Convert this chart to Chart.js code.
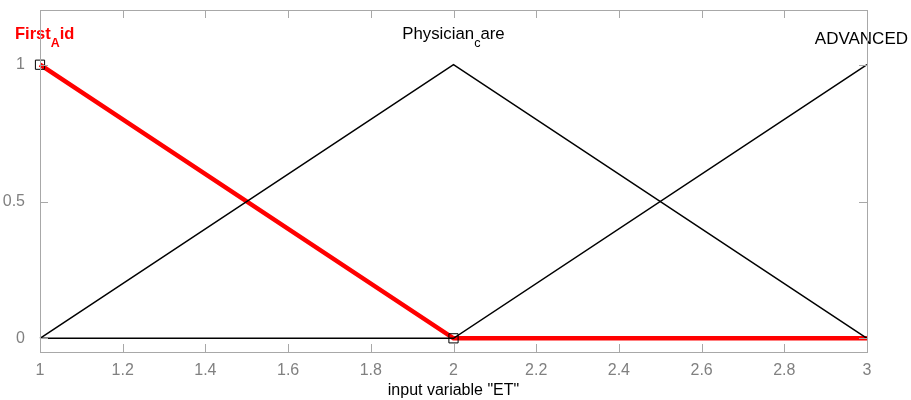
<!DOCTYPE html>
<html>
<head>
<meta charset="utf-8">
<script src="https://cdn.jsdelivr.net/npm/chart.js@4"></script>
<style>
  html, body { margin: 0; padding: 0; background: #fff; }
  #mf { display: block; }
</style>
</head>
<body>
<canvas id="mf" width="911" height="400"></canvas>
<script>
// membership function break points on "ET"
const mfX = [1, 2, 3];
const firstAidY = [1, 0, 0];
const physicianCareY = [0, 1, 0];
const advancedY = [0, 0, 1];

// label text: [main, subscript, rest]
const mfLabels = [['First', 'A', 'id'], ['Physician', 'c', 'are'], ['ADVANCED', '', '']];
const yTicks = [0, 0.5, 1];
const xTitle = 'input variable "ET"';

const FONT = '"Liberation Sans", Arial, Helvetica, sans-serif';
const AXIS_GREY = '#a8a8a8';
const TICK_GREY = '#808080';

function toPoints(ys) {
    return mfX.map((x, i) => ({ x: x, y: ys[i] }));
}

// box + inward ticks like the matlab axes
const boxPlugin = {
    id: 'box',
    afterDraw(chart) {
        const { ctx, chartArea: a, scales } = chart;
        ctx.save();
        ctx.strokeStyle = AXIS_GREY;
        ctx.lineWidth = 1;
        ctx.strokeRect(Math.round(a.left) + 0.5, Math.round(a.top) + 0.5,
            Math.round(a.right - a.left), Math.round(a.bottom - a.top));
        const len = 8;
        ctx.beginPath();
        scales.x.ticks.forEach(t => {
            const px = Math.round(scales.x.getPixelForValue(t.value)) + 0.5;
            ctx.moveTo(px, a.bottom);
            ctx.lineTo(px, a.bottom - len);
            ctx.moveTo(px, a.top);
            ctx.lineTo(px, a.top + len);
        });
        scales.y.ticks.forEach(t => {
            const py = Math.round(scales.y.getPixelForValue(t.value)) + 0.5;
            ctx.moveTo(a.left, py);
            ctx.lineTo(a.left + len, py);
            ctx.moveTo(a.right, py);
            ctx.lineTo(a.right - len, py);
        });
        ctx.stroke();
        ctx.restore();
    }
};

// mf names above each peak, with tex-like subscripts
const labelPlugin = {
    id: 'mfNames',
    afterDatasetsDraw(chart) {
        const { ctx, scales, width } = chart;
        const styles = [
            { color: '#ff0000', weight: 'bold', size: 16.5, dy: -30 },
            { color: '#000000', weight: 'normal', size: 16.8, dy: -30 },
            { color: '#000000', weight: 'normal', size: 17, dy: -25 }
        ];
        ctx.save();
        ctx.textBaseline = 'middle';
        ctx.textAlign = 'left';
        mfLabels.forEach((parts, i) => {
            const s = styles[i];
            const big = s.weight + ' ' + s.size + 'px ' + FONT;
            const small = s.weight + ' ' + (s.size * 0.75).toFixed(1) + 'px ' + FONT;
            ctx.font = big;
            const w1 = ctx.measureText(parts[0]).width;
            const w3 = ctx.measureText(parts[2]).width;
            ctx.font = small;
            const w2 = ctx.measureText(parts[1]).width;
            const total = w1 + w2 + w3;
            let x = scales.x.getPixelForValue(mfX[i]) - total / 2;
            // keep names inside the figure
            x = Math.max(15, Math.min(x, width - 3 - total));
            const y = scales.y.getPixelForValue(1) + s.dy;
            ctx.fillStyle = s.color;
            ctx.font = big;
            ctx.fillText(parts[0], x, y);
            x += w1;
            ctx.font = small;
            ctx.fillText(parts[1], x, y + 9);
            x += w2;
            ctx.font = big;
            ctx.fillText(parts[2], x, y);
        });
        ctx.restore();
    }
};

const chart = new Chart(document.getElementById('mf'), {
    type: 'line',
    data: {
        datasets: [{
            label: 'ADVANCED',
            data: toPoints(advancedY),
            borderColor: '#000',
            borderWidth: 1.5,
            pointRadius: 0,
            tension: 0,
            clip: false
        }, {
            label: 'Physician_care',
            data: toPoints(physicianCareY),
            borderColor: '#000',
            borderWidth: 1.5,
            pointRadius: 0,
            tension: 0,
            clip: false
        }, {
            label: 'First_Aid',
            data: toPoints(firstAidY),
            borderColor: '#ff0000',
            borderWidth: 4.5,
            pointStyle: 'rect',
            pointRadius: [6.5, 6.5, 0],
            pointBorderColor: '#000',
            pointBackgroundColor: 'rgba(0,0,0,0)',
            pointBorderWidth: 1,
            tension: 0,
            clip: false
        }]
    },
    options: {
        responsive: false,
        animation: false,
        layout: { padding: { left: 0, right: 44, top: 10, bottom: 0 } },
        plugins: {
            legend: { display: false },
            tooltip: { enabled: false }
        },
        scales: {
            x: {
                type: 'linear',
                min: 1,
                max: 3,
                grid: { display: false },
                border: { display: false },
                ticks: {
                    stepSize: 0.2,
                    color: TICK_GREY,
                    font: { family: FONT, size: 16 },
                    padding: 1,
                    maxRotation: 0,
                    callback: v => String(parseFloat(v.toFixed(1)))
                },
                title: {
                    display: true,
                    text: xTitle,
                    color: '#000',
                    font: { family: FONT, size: 16 },
                    padding: { top: 0, bottom: 0 }
                },
                afterFit: s => { s.height = 48; }
            },
            y: {
                type: 'linear',
                min: -0.05,
                max: 1.2,
                grid: { display: false },
                border: { display: false },
                afterBuildTicks: s => { s.ticks = yTicks.map(v => ({ value: v })); },
                ticks: {
                    color: TICK_GREY,
                    font: { family: FONT, size: 16 },
                    padding: 7,
                    callback: v => String(v)
                },
                afterFit: s => {
                    s.width = 40;
                    s.paddingTop = 0;
                    s.paddingBottom = 0;
                }
            }
        }
    },
    plugins: [boxPlugin, labelPlugin]
});
</script>
</body>
</html>
